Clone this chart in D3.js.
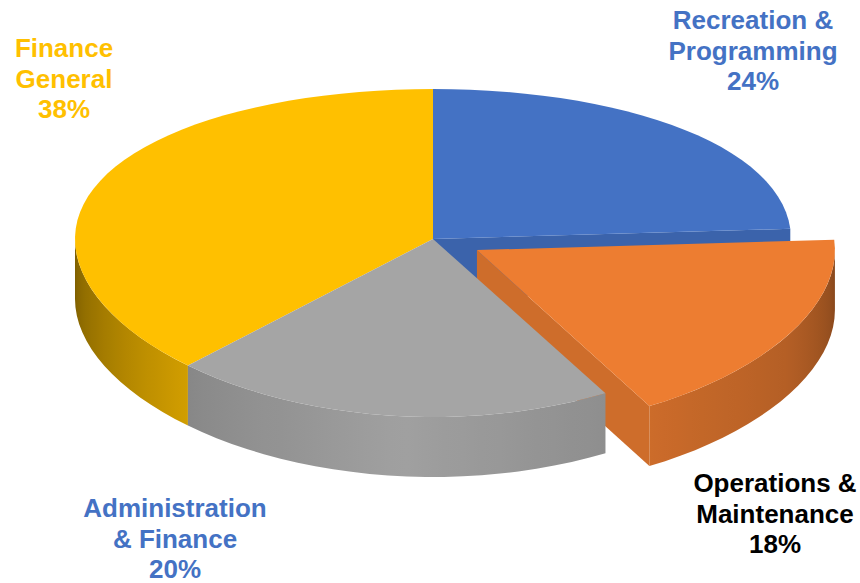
<!DOCTYPE html>
<html>
<head>
<meta charset="utf-8">
<script src="https://cdn.jsdelivr.net/npm/d3@7"></script>
<style>
  html, body { margin: 0; padding: 0; background: #ffffff; }
  svg { display: block; }
  text { font-family: "Liberation Sans", Arial, sans-serif; font-weight: bold; }
</style>
</head>
<body>
<svg id="chart" width="860" height="583"></svg>
<script>
// Budget shares by department
const categories = ["Recreation & Programming", "Operations & Maintenance", "Administration & Finance", "Finance General"];
const shares = [24, 18, 20, 38];
const labelNames = [["Recreation &", "Programming"], ["Operations &", "Maintenance"], ["Administration", "& Finance"], ["Finance", "General"]];
const sliceColors = ["#4472C4", "#ED7D31", "#A5A5A5", "#FFC000"];
const labelColors = ["#4472C4", "#000000", "#4472C4", "#FFC000"];
const explodeAmount = [0, 0.14, 0, 0];

// Label anchors: centre x and first baseline
const labelAnchors = [[753, 29], [775, 492], [175, 517], [64, 57]];
const lineHeight = 30.5;

// 3D disc projection (tilted, with mild depth perspective)
const cx = 433, cy = 239, RX = 358, A = 162.8, K = 0.0854, DEPTH = 60;
function project(theta, r, ex, ez, h) {
  const X = r * Math.sin(theta) + ex;
  const Z = -r * Math.cos(theta) + ez;
  return [cx + RX * X, cy + A * Z / (1 - K * Z) + h];
}

// Side shading as a function of the outward direction (degrees, clockwise from top)
const shade = d3.scaleLinear()
  .domain([90, 120, 140, 151, 185, 222, 250, 270])
  .range([0.56, 0.76, 0.82, 0.86, 0.97, 0.83, 0.62, 0.48])
  .clamp(true);
const faceShade = 0.87;

function darken(c, f) {
  const r = d3.rgb(c);
  return d3.rgb(r.r * f, r.g * f, r.b * f).formatHex();
}

const svg = d3.select("#chart");
const defs = svg.append("defs");
const gPie = svg.append("g");

const arcs = d3.pie().sort(null).value(d => d)(shares).map((a, i) => {
  const mid = (a.startAngle + a.endAngle) / 2;
  const e = explodeAmount[i];
  return Object.assign(a, {
    i, mid,
    ex: e * Math.sin(mid),
    ez: -e * Math.cos(mid)
  });
});

const line = d3.line();
const N = 120;

function arcPoints(a0, a1, s, h) {
  const n = Math.max(2, Math.ceil(N * (a1 - a0) / (2 * Math.PI)));
  return d3.range(n + 1).map(k => project(a0 + (a1 - a0) * k / n, 1, s.ex, s.ez, h));
}

function isExploded(j) { return explodeAmount[(j + shares.length) % shares.length] > 0; }

// back-to-front drawing order by depth of slice middle
const order = arcs.slice().sort((p, q) => (-Math.cos(p.mid) + p.ez) - (-Math.cos(q.mid) + q.ez));

order.forEach(s => {
  const color = sliceColors[s.i];
  const g = gPie.append("g");

  // radial cut faces, visible only beside an exploded slice
  const faces = [];
  if (Math.sin(s.startAngle) < -1e-6 && (isExploded(s.i) || isExploded(s.i - 1))) faces.push(s.startAngle);
  if (Math.sin(s.endAngle) > 1e-6 && (isExploded(s.i) || isExploded(s.i + 1))) faces.push(s.endAngle);
  faces.forEach(a => {
    const pts = [
      project(0, 0, s.ex, s.ez, 0),
      project(a, 1, s.ex, s.ez, 0),
      project(a, 1, s.ex, s.ez, DEPTH),
      project(0, 0, s.ex, s.ez, DEPTH)
    ];
    g.append("path").attr("d", line(pts) + "Z").attr("fill", darken(color, faceShade));
  });

  // outer side wall (front half only)
  const v0 = Math.max(s.startAngle, Math.PI / 2);
  const v1 = Math.min(s.endAngle, 3 * Math.PI / 2);
  if (v1 > v0) {
    const top = arcPoints(v0, v1, s, 0);
    const bottom = arcPoints(v0, v1, s, DEPTH).reverse();
    const xs = top.map(p => p[0]);
    const xMin = d3.min(xs), xMax = d3.max(xs);
    const gid = "side" + s.i;
    const grad = defs.append("linearGradient").attr("id", gid)
      .attr("gradientUnits", "userSpaceOnUse")
      .attr("x1", xMin).attr("x2", xMax).attr("y1", 0).attr("y2", 0);
    const stops = d3.range(25).map(k => {
      const t = v0 + (v1 - v0) * k / 24;
      const x = project(t, 1, s.ex, s.ez, 0)[0];
      return { off: (x - xMin) / Math.max(1e-6, xMax - xMin), c: darken(color, shade(t * 180 / Math.PI)) };
    }).sort((p, q) => p.off - q.off);
    grad.selectAll("stop").data(stops).join("stop")
      .attr("offset", d => d.off).attr("stop-color", d => d.c);
    g.append("path").attr("d", line(top.concat(bottom)) + "Z").attr("fill", `url(#${gid})`);
  }

  // top surface
  const topPts = [project(0, 0, s.ex, s.ez, 0)].concat(arcPoints(s.startAngle, s.endAngle, s, 0));
  g.append("path").attr("d", line(topPts) + "Z").attr("fill", color)
    .append("title").text(categories[s.i]);
});

// Data labels
const labels = svg.append("g");
arcs.forEach(s => {
  const [lx, ly] = labelAnchors[s.i];
  const lines = labelNames[s.i].concat([shares[s.i] + "%"]);
  const t = labels.append("text")
    .attr("text-anchor", "middle")
    .attr("font-size", 26)
    .attr("fill", labelColors[s.i]);
  t.selectAll("tspan").data(lines).join("tspan")
    .attr("x", lx).attr("y", (d, k) => ly + k * lineHeight)
    .text(d => d);
});
</script>
</body>
</html>
